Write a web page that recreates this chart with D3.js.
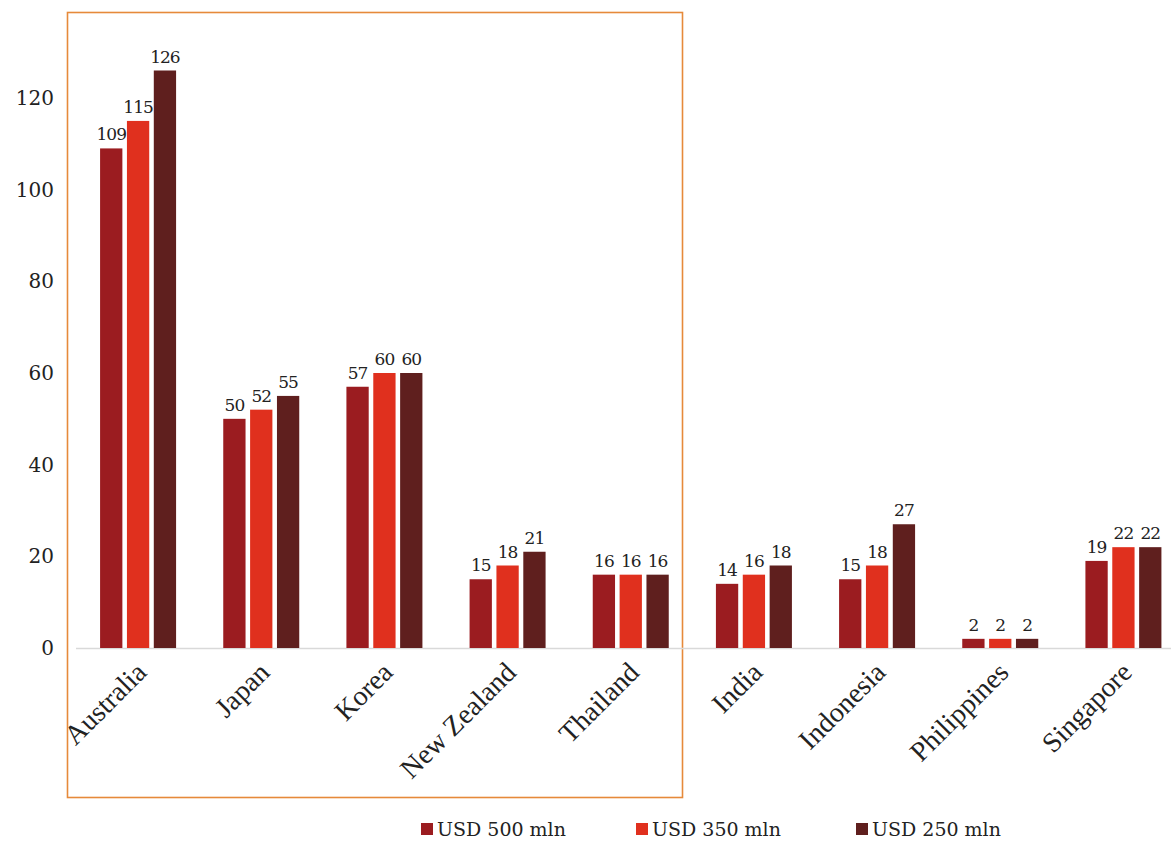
<!DOCTYPE html>
<html>
<head>
<meta charset="utf-8">
<script src="https://cdn.jsdelivr.net/npm/d3@7"></script>
<style>
  body { margin: 0; background: #fff; }
  svg { display: block; }
</style>
</head>
<body>
<div id="plot"></div>
<script>
// Chart values
var countries = ["Australia", "Japan", "Korea", "New Zealand", "Thailand",
                 "India", "Indonesia", "Philippines", "Singapore"];
var seriesNames = ["USD 500 mln", "USD 350 mln", "USD 250 mln"];
var usd500 = [109, 50, 57, 15, 16, 14, 15, 2, 19];
var usd350 = [115, 52, 60, 18, 16, 16, 18, 2, 22];
var usd250 = [126, 55, 60, 21, 16, 18, 27, 2, 22];
var yTicks = [0, 20, 40, 60, 80, 100, 120];
var colors = ["#9b1c20", "#e0301e", "#5f1f1e"];

var W = 1171, H = 843;
var svg = d3.select("#plot").append("svg")
    .attr("width", W).attr("height", H);

var x = d3.scaleBand()
    .domain(countries)
    .range([76.5, 1185])
    .paddingInner(0)
    .paddingOuter(0);

var sub = d3.scaleBand()
    .domain(d3.range(3))
    .range([x.bandwidth() / 2 - 38, x.bandwidth() / 2 + 38])
    .paddingInner(0.17);

var y = d3.scaleLinear()
    .domain([0, 120])
    .range([648, 98]);

var numFont = "DejaVu Serif";
var lblFont = "Liberation Serif";

// Orange highlight box
svg.append("rect")
    .attr("x", 67.5).attr("y", 12.5)
    .attr("width", 615).attr("height", 785)
    .attr("fill", "none")
    .attr("stroke", "#e68a3a")
    .attr("stroke-width", 1.6);

// Y axis labels
var yAxis = svg.append("g")
    .attr("transform", "translate(58,0)")
    .call(d3.axisLeft(y).tickValues(yTicks).tickSize(0).tickPadding(4));
yAxis.select(".domain").remove();
yAxis.selectAll("text")
    .attr("font-family", numFont)
    .attr("font-size", 20)
    .attr("fill", "#222");

// Baseline
svg.append("line")
    .attr("x1", 76).attr("x2", 1171)
    .attr("y1", y(0) + 0.5).attr("y2", y(0) + 0.5)
    .attr("stroke", "#d9d9d9")
    .attr("stroke-width", 1.5);

var series = [usd500, usd350, usd250];

var groups = svg.append("g").selectAll("g")
    .data(countries)
    .enter().append("g")
    .attr("transform", function (d) { return "translate(" + x(d) + ",0)"; });

groups.each(function (c, i) {
    var g = d3.select(this);
    series.forEach(function (s, k) {
        g.append("rect")
            .attr("x", sub(k))
            .attr("width", sub.bandwidth())
            .attr("y", y(s[i]))
            .attr("height", y(0) - y(s[i]))
            .attr("fill", colors[k]);
        g.append("text")
            .attr("x", sub(k) + sub.bandwidth() / 2)
            .attr("y", y(s[i]) - 8)
            .attr("text-anchor", "middle")
            .attr("font-family", numFont)
            .attr("font-size", 17)
            .attr("letter-spacing", -1)
            .attr("fill", "#222")
            .text(s[i]);
    });
});

// Category labels, rotated
svg.append("g").selectAll("text")
    .data(countries)
    .enter().append("text")
    .attr("transform", function (d) {
        return "translate(" + (x(d) + x.bandwidth() / 2 + 10) + "," + 674 + ") rotate(-45)";
    })
    .attr("text-anchor", "end")
    .attr("font-family", lblFont)
    .attr("font-size", 28)
    .attr("fill", "#222")
    .text(function (d) { return d; });

// Legend
var legendX = [421, 636, 856];
var legend = svg.append("g").selectAll("g")
    .data(seriesNames)
    .enter().append("g")
    .attr("transform", function (d, i) { return "translate(" + legendX[i] + ",823)"; });
legend.append("rect")
    .attr("width", 12).attr("height", 12)
    .attr("fill", function (d, i) { return colors[i]; });
legend.append("text")
    .attr("x", 16).attr("y", 13)
    .attr("font-family", numFont)
    .attr("font-size", 19)
    .attr("fill", "#222")
    .text(function (d) { return d; });
</script>
</body>
</html>
